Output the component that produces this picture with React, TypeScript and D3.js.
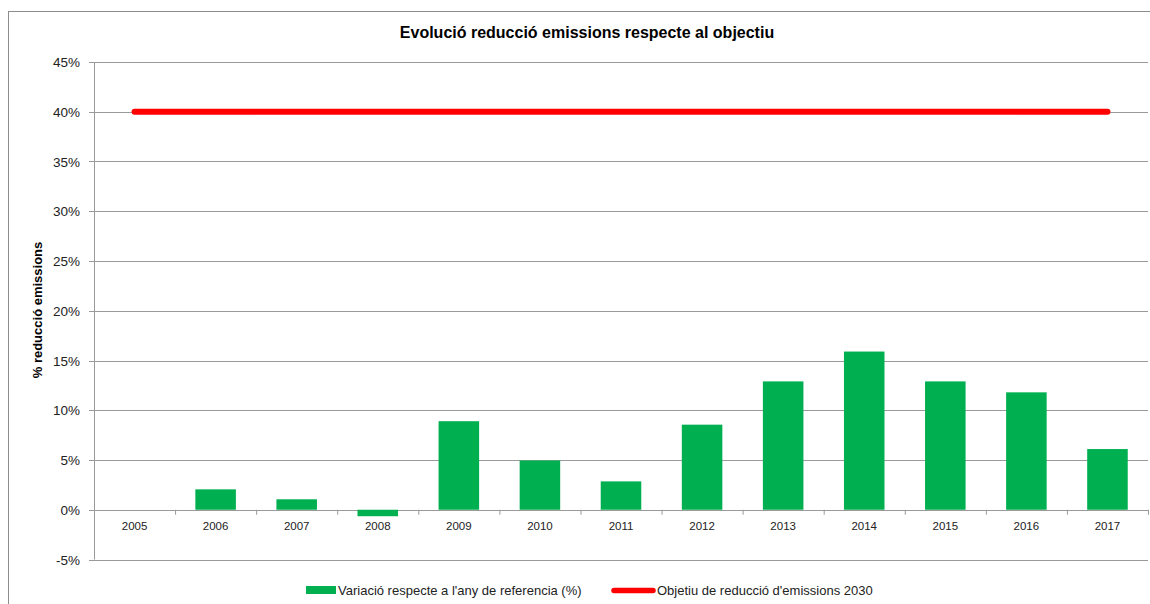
import React from "react";
import * as d3 from "d3";

const years = ["2005","2006","2007","2008","2009","2010","2011","2012","2013","2014","2015","2016","2017"];
const variacio = [0, 2.05, 1.05, -0.65, 8.9, 4.95, 2.85, 8.55, 12.9, 15.9, 12.9, 11.8, 6.1];
const objectiu = [40,40,40,40,40,40,40,40,40,40,40,40,40];
const yTicks = [-5, 0, 5, 10, 15, 20, 25, 30, 35, 40, 45];

const W = 1150, H = 604;
const left = 94, right = 1148, top = 62, bottom = 559.5;

export default function App() {
  const x = d3.scaleBand<string>().domain(years).range([left, right]).padding(0);
  const y = d3.scaleLinear().domain([-5, 45]).range([bottom, top]);
  const bw = x.bandwidth() * 0.5;
  const line = d3.line<number>().x((_, i) => x(years[i])! + x.bandwidth() / 2).y(d => y(d));
  const font = "'Liberation Sans', Arial, sans-serif";
  const gridColor = "#9a9a9a";
  return (
    <svg width={W} height={H} style={{ position: "absolute", left: 0, top: 0, background: "#fff" }} fontFamily={font}>
      <rect x={8.5} y={11.5} width={1200} height={700} fill="#fff" stroke="#8c8c8c" strokeWidth={1} />
      <text x={587} y={38} textAnchor="middle" fontSize={16} fontWeight="bold" fill="#000">Evolució reducció emissions respecte al objectiu</text>
      {yTicks.map(t => (
        <g key={t}>
          <line x1={left - 5} x2={right} y1={Math.round(y(t)) + 0.5} y2={Math.round(y(t)) + 0.5} stroke={gridColor} strokeWidth={1} />
          <text x={80} y={y(t) + 5} textAnchor="end" fontSize={13.5} fill="#222">{t}%</text>
        </g>
      ))}
      <line x1={left + 0.5} x2={left + 0.5} y1={top} y2={bottom} stroke={gridColor} />
      {years.map((yr, i) => (
        <line key={"t" + yr} x1={x(yr)! + x.bandwidth() + 0.5} x2={x(yr)! + x.bandwidth() + 0.5} y1={y(0)} y2={y(0) + 5} stroke={gridColor} />
      ))}
      {variacio.map((v, i) => (
        <rect key={years[i]} x={x(years[i])! + (x.bandwidth() - bw) / 2} width={bw}
          y={Math.min(y(v), y(0))} height={Math.abs(y(v) - y(0))} fill="#00b050" />
      ))}
      {years.map(yr => (
        <text key={"l" + yr} x={x(yr)! + x.bandwidth() / 2} y={530} textAnchor="middle" fontSize={11.5} fill="#222">{yr}</text>
      ))}
      <path d={line(objectiu)!} fill="none" stroke="#ff0000" strokeWidth={6} strokeLinecap="round" />
      <text transform={`translate(42,${310}) rotate(-90)`} textAnchor="middle" fontSize={13} fontWeight="bold" fill="#000">% reducció emissions</text>
      <rect x={306} y={586} width={30} height={8} fill="#00b050" />
      <text x={338} y={595} fontSize={13} fill="#222">Variació respecte a l'any de referencia (%)</text>
      <line x1={614} x2={653} y1={590.5} y2={590.5} stroke="#ff0000" strokeWidth={5.5} strokeLinecap="round" />
      <text x={657} y={595} fontSize={13} fill="#222">Objetiu de reducció d'emissions 2030</text>
    </svg>
  );
}
